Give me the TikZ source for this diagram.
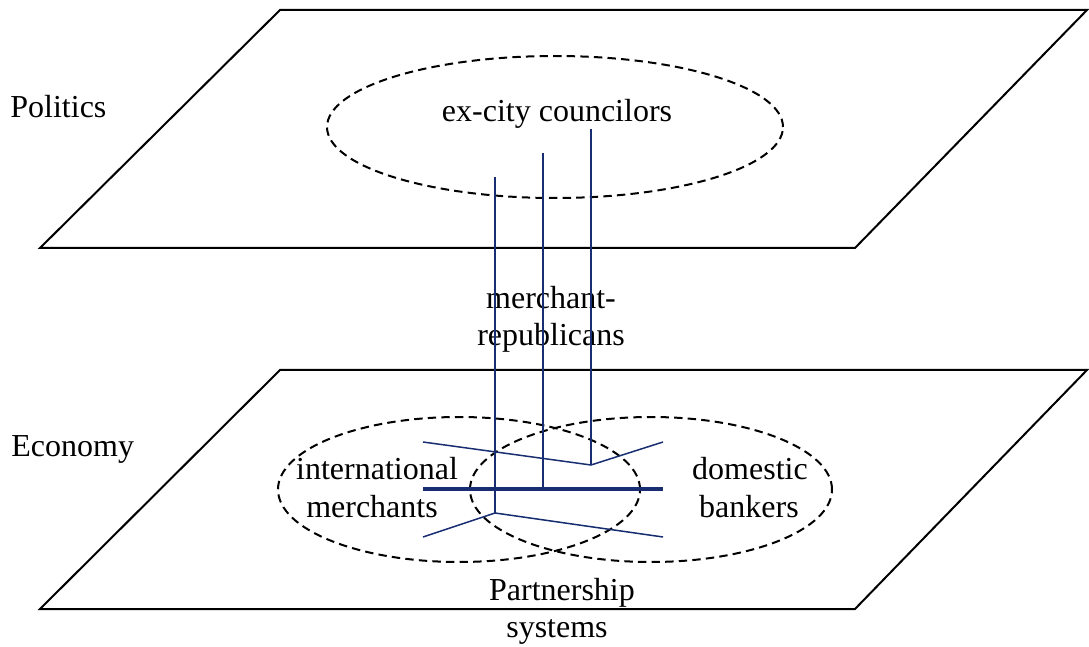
\documentclass[tikz,border=0pt]{standalone}
\usepackage{fontspec}
\setmainfont{Liberation Serif}
\usetikzlibrary{shapes.geometric}
\definecolor{linkblue}{RGB}{24,46,112}
\begin{document}
\begin{tikzpicture}[x=0.5pt,y=-0.5pt,
  plane/.style={draw=black,line width=1pt,line join=miter},
  group/.style={draw=black,ellipse,dash pattern=on 4.2pt off 2.6pt,line width=1pt,inner sep=0pt},
  tie/.style={draw=linkblue,line width=0.75pt},
  bar/.style={draw=linkblue,line width=1.7pt},
  lbl/.style={font=\fontsize{16}{18.5}\selectfont,inner sep=0pt,align=center}]
\useasboundingbox (0,0) rectangle (1089,647);

% the two planes
\draw[plane] (280,10) -- (1087,10) -- (855,248) -- (40,248) -- cycle;
\draw[plane] (280,370) -- (1087,370) -- (855,609) -- (40,609) -- cycle;

% groups on each plane
\node[group,minimum width=228pt,minimum height=71pt] (councilors) at (555,127) {};
\node[group,minimum width=181pt,minimum height=72.5pt] (merchants) at (459,489.5) {};
\node[group,minimum width=181pt,minimum height=72.5pt] (bankers) at (651,489.5) {};

% labels
\node[lbl,anchor=base] (tcouncil) at (557,122) {ex-city councilors};
\node[lbl,anchor=base west] (politics) at (10,118) {Politics};
\node[lbl,anchor=base west] (economy) at (11,457) {Economy};
\node[lbl,anchor=base] (tmr1) at (551,308) {merchant-};
\node[lbl,anchor=base] (tmr2) at (551,345) {republicans};
\node[lbl,anchor=base] (tint) at (377,480) {international};
\node[lbl,anchor=base] (tmer) at (372,517) {merchants};
\node[lbl,anchor=base] (tdom) at (750,480) {domestic};
\node[lbl,anchor=base] (tbank) at (749,517) {bankers};
\node[lbl,anchor=base] (tpart) at (562,600) {Partnership};
\node[lbl,anchor=base] (tsys) at (557,637) {systems};

% merchant-republican ties between the planes
\coordinate (a1) at (495,177); \coordinate (a2) at (495,513);
\coordinate (b1) at (543,153); \coordinate (b2) at (543,489);
\coordinate (c1) at (591,129); \coordinate (c2) at (591,465);
\coordinate (hl) at (423,489); \coordinate (hr) at (663,489);
\coordinate (ul) at (423,442); \coordinate (ur) at (663,442);
\coordinate (ll) at (423,537); \coordinate (lr) at (663,537);

\draw[tie] (a1) -- (a2);
\draw[tie] (b1) -- (b2);
\draw[tie] (c1) -- (c2);
\draw[bar] (hl) -- (hr);
\draw[tie] (ul) -- (c2) -- (ur);
\draw[tie] (ll) -- (a2) -- (lr);
\end{tikzpicture}
\end{document}
